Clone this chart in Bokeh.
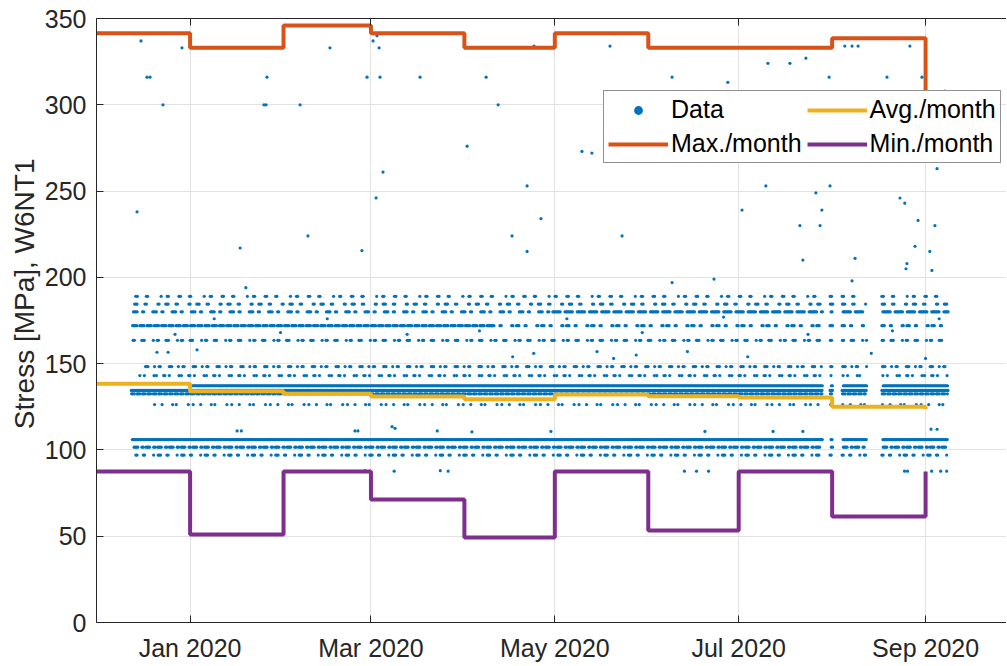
import pandas as pd
from bokeh.plotting import figure
from bokeh.models import (Range1d, FixedTicker, DatetimeTickFormatter, Legend,
                          LegendItem, DatetimeAxis, ColumnDataSource, Title)
from bokeh.embed import file_html
from bokeh.resources import INLINE

# ---------------- data ----------------
T0 = pd.Timestamp("2020-01-01")

# monthly statistics (stairs, value holds from month start)
month_starts = ["2019-12-01", "2020-01-01", "2020-02-01", "2020-03-01", "2020-04-01",
                "2020-05-01", "2020-06-01", "2020-07-01", "2020-08-01", "2020-09-01"]
max_month = [341.5, 333, 346, 341.5, 333, 341.5, 333, 333, 338.5, 308]
avg_month = [138.3, 134.0, 132.6, 131.0, 129.4, 132.1, 131.1, 130.4, 125.0, 123.5]
min_month = [87.5, 51, 87.5, 71.3, 49.3, 87.5, 53.3, 87.5, 61.4, 87.5]

# recording periods (days after 2020-01-01)
periods = [(-19.5, 210.0), (212.3, 213.3), (216.3, 224.5), (229.5, 251.5)]

# quantised stress levels [MPa]: level, spacing pattern (days), first/last day of the band
band_level = [189.0, 184.5, 180.0, 180.0, 172.0, 172.0, 163.5, 148.3, 143.1,
              137.2, 134.5, 132.5, 126.3, 106.0, 101.6, 97.0]
band_steps = [[0.5, 3.0, 0.4, 4.5, 2.0, 0.4, 3.5],
              [0.4, 0.4, 2.6, 0.5, 3.8, 0.4, 2.2],
              [0.4, 0.4, 0.4, 1.8, 0.4, 3.0],
              [0.35, 0.35, 0.35, 0.35, 0.35, 0.35, 0.35, 1.6],
              [0.35, 0.35, 0.35, 0.35, 1.0],
              [0.4, 0.4, 2.0, 0.4, 3.5, 0.4, 1.2],
              [0.4, 2.5, 0.4, 0.4, 3.0, 1.3],
              [0.4, 0.4, 2.2, 1.5, 0.4, 3.0],
              [1.5, 3.2, 0.8, 2.4, 0.4],
              [0.35],
              [0.35, 0.45],
              [0.4, 0.5, 0.9],
              [2.5, 3.5, 1.2, 4.0, 1.6],
              [0.35],
              [0.4, 0.4, 0.4, 1.4, 0.4, 0.9],
              [0.4, 2.1, 0.4, 3.0, 1.5, 0.4]]
band_from = [-18.0, -18.5, -19.0, 120.0, -19.5, 100.0, -19.0, -15.0, -17.0,
             0.0, -19.5, -19.5, -12.0, -19.5, -19.0, -18.0]
band_to = [252.0, 252.0, 120.0, 252.0, 100.0, 252.0, 252.0, 252.0, 252.0,
           252.0, 252.0, 252.0, 252.0, 252.0, 252.0, 252.0]

# isolated readings: day after 2020-01-01, stress [MPa]
out_day = [-16.3, -14.3, -13.3, -9.0, -2.7, -17.6, 25.5, 24.5, 25.2, 36.5, 46.4, 58.7,
           60.7, 62.0, 62.7, 63.0, 64.0, 61.7, 16.6, 39.1, 57.0, 76.3, 91.9, 98.2,
           102.2, 111.8, 106.8, 116.4, 111.8, 114.1, 130.0, 133.3, 143.3, 139.3, 159.9,
           159.9, 173.8, 178.4, 183.1, 191.0, 191.7, 199.0, 204.3, 202.3, 203.3, 206.3,
           207.6, 209.6, 209.0, 212.0, 212.3, 220.6, 219.6, 217.2, 219.6, 221.6, 231.2,
           235.5, 237.1, 241.5, 240.5, 237.8, 237.5, 238.8, 242.5, 242.8, 247.8, 250.4,
           247.1, 245.4, 246.1, 18.5,
           58.0, 67.7, 83.0, 85.6, 164.0, 168.0, 172.0, 237.0, 238.0, 246.0, 249.0, 251.0,
           15.6, 17.0, 54.7, 55.7, 67.0, 68.0, 82.0, 93.5, 119.7, 170.8, 193.4, 203.3,
           245.8, 247.8,
           -11.0, -7.3, 2.3, 107.0, 114.0, 135.0, 140.5, 148.0, 165.0, 185.0, 226.0, 244.0,
           -5.0, 8.0, 30.0, 45.5, 72.0, 96.0, 125.0, 150.0, 177.0, 205.0, 233.0, 248.5]
out_val = [337, 316, 316, 300, 333, 238, 316, 300, 300, 300, 333, 316,
           337, 340, 333, 316, 261, 246, 217, 224, 215.5, 316, 276, 316,
           300, 253, 224, 234, 215, 334, 273, 272, 224, 334, 316,
           197, 199, 313, 239, 253, 324, 324, 327, 230, 210, 269,
           249, 239, 230, 316, 253, 211, 198, 334, 334, 334, 316,
           246, 243, 233, 218, 208, 205, 334, 300, 316, 263, 308,
           230, 215, 204, 194,
           88, 87.7, 88, 87.7, 87.7, 87.7, 87.7, 87.7, 87.7, 87.7, 87.7, 87.7,
           111, 111, 111, 111, 113.5, 112.5, 111, 110.5, 110.7, 110.7, 110.7, 110.7,
           112, 112,
           156.6, 156.6, 158, 154, 156, 157, 153, 155, 157, 154, 156, 153,
           167, 176, 168, 176, 167, 169, 176, 168, 177, 167, 169, 176]

# ---------------- build point cloud ----------------
xs, ys = [], []
for k, lvl in enumerate(band_level):
    steps = band_steps[k]
    for a, b in periods:
        a2, b2 = max(a, band_from[k]), min(b, band_to[k])
        if a2 >= b2:
            continue
        t = a2 + 0.11 * (k % 5)
        i = 0
        while t < b2:
            xs.append(T0 + pd.Timedelta(days=t))
            ys.append(lvl)
            t += steps[i % len(steps)]
            i += 1
for d, v in zip(out_day, out_val):
    xs.append(T0 + pd.Timedelta(days=d))
    ys.append(v)

src = ColumnDataSource(dict(x=xs, y=ys))
mdates = [pd.Timestamp(m) for m in month_starts]

# ---------------- figure ----------------
PX_PER_DAY = 3.0143
FRAME_W = 910
x0 = pd.Timestamp("2019-12-01") - pd.Timedelta(days=0.05)
x1 = x0 + pd.Timedelta(days=FRAME_W / PX_PER_DAY)

p = figure(frame_width=FRAME_W, frame_height=604, x_axis_type="datetime",
           x_range=Range1d(x0, x1), y_range=Range1d(0, 350),
           output_backend="svg", toolbar_location=None,
           min_border_left=96, min_border_right=0, min_border_top=18, min_border_bottom=0,
           background_fill_color="white", border_fill_color="white")
p.outline_line_color = None

AX = "#262626"
FONT = "Liberation Sans"
ticks = [pd.Timestamp(t).value / 1e6 for t in
         ["2020-01-01", "2020-03-01", "2020-05-01", "2020-07-01", "2020-09-01"]]

xa = p.xaxis[0]
xa.ticker = FixedTicker(ticks=ticks)
xa.formatter = DatetimeTickFormatter(days="%b %Y", months="%b %Y", years="%b %Y")
ya = p.yaxis[0]
ya.ticker = FixedTicker(ticks=[0, 50, 100, 150, 200, 250, 300, 350])

for ax in (xa, ya):
    ax.major_label_text_font_size = "25px"
    ax.major_label_text_font = FONT
    ax.major_label_text_color = AX
    ax.axis_line_color = AX
    ax.major_tick_line_color = AX
    ax.major_tick_in = 7
    ax.major_tick_out = 0
    ax.minor_tick_line_color = None
xa.major_label_standoff = 11
ya.major_label_standoff = 10

top = DatetimeAxis(ticker=FixedTicker(ticks=ticks),
                   major_label_overrides={t: "" for t in ticks},
                   axis_line_color=AX, major_tick_line_color=AX, major_tick_in=7,
                   major_tick_out=0, minor_tick_line_color=None, major_label_standoff=0)
p.add_layout(top, "above")

# y-axis title as a left-side title, shifted up like the reference
ytitle = Title(text="Stress [MPa], W6NT1", align="right", offset=140,
               text_font=FONT, text_font_size="28px", text_font_style="normal",
               text_color=AX, standoff=4)
p.add_layout(ytitle, "left")

p.xgrid.ticker = FixedTicker(ticks=ticks)
p.xgrid.grid_line_color = "#e2e2e2"
p.ygrid.grid_line_color = "#e2e2e2"

r_data = p.scatter("x", "y", source=src, size=3.2, color="#0072BD", line_color=None)
r_max = p.step(mdates, max_month, mode="after", line_color="#D95319", line_width=4)
r_avg = p.step(mdates, avg_month, mode="after", line_color="#EDB120", line_width=4)
r_min = p.step(mdates, min_month, mode="after", line_color="#7E2F8E", line_width=4)

legend = Legend(items=[LegendItem(label="Data", renderers=[r_data]),
                       LegendItem(label="Max./month", renderers=[r_max]),
                       LegendItem(label="Avg./month", renderers=[r_avg]),
                       LegendItem(label="Min./month", renderers=[r_min])],
                ncols=2, location=(507, 459),
                label_text_font=FONT, label_text_font_size="25px", label_text_color="#000000",
                glyph_width=60, glyph_height=22, label_standoff=3, spacing=5,
                padding=4, margin=0, border_line_color="#262626", border_line_width=1,
                background_fill_color="white", background_fill_alpha=1.0,
                label_height=22)
p.add_layout(legend, "center")

open("out.html", "w").write(file_html(p, INLINE))
